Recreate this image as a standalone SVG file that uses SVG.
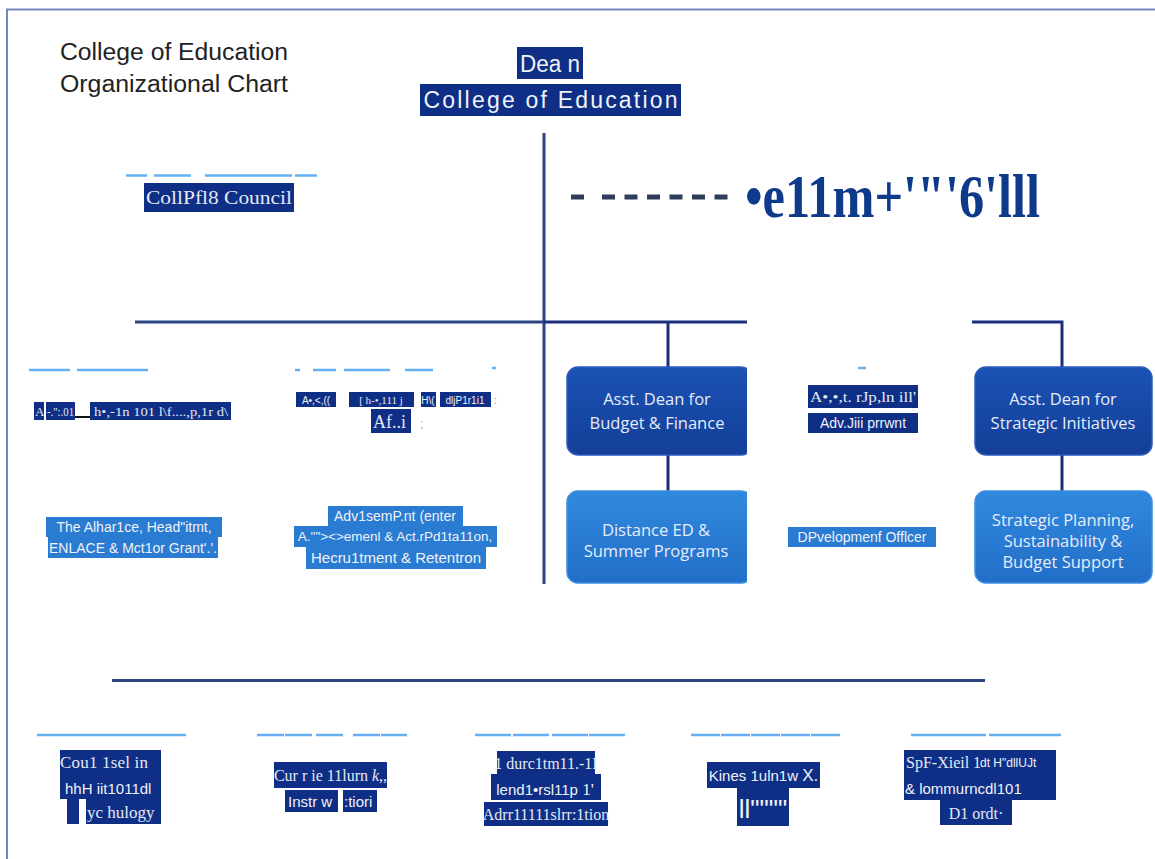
<svg xmlns="http://www.w3.org/2000/svg" width="1155" height="859" viewBox="0 0 1155 859">
<style>
.t{font-family:"Liberation Sans",Arial,sans-serif;fill:#f0f2f8}
.s{font-family:"Liberation Serif","Times New Roman",serif;fill:#e4e8f2}
.nv{fill:#0e2f85}
.md{fill:#2a7bd2}
.dl{stroke:#64b0f2;stroke-width:2.5}
.ln{stroke:#2b4583;stroke-width:3;fill:none}
.rl{stroke:#1c2f7c;stroke-width:3;fill:none}
.bx{font-family:"Open Sans","Liberation Sans",sans-serif;font-size:16.5px;fill:#e6ecf8;text-anchor:middle}
</style>
<defs>
<linearGradient id="gd" x1="0" y1="0" x2="0" y2="1"><stop offset="0" stop-color="#1b52b4"/><stop offset="1" stop-color="#133f98"/></linearGradient>
<linearGradient id="gl" x1="0" y1="0" x2="0" y2="1"><stop offset="0" stop-color="#3089de"/><stop offset="1" stop-color="#226ec8"/></linearGradient>
<clipPath id="cl"><rect x="540" y="312" width="207" height="272"/></clipPath>
<clipPath id="cr"><rect x="972" y="312" width="183" height="272"/></clipPath>
</defs>
<rect width="1155" height="859" fill="#fff"/>
<path d="M7 859V9.5H1155" fill="none" stroke="#7486bd" stroke-width="2"/>

<g id="title">
<text x="60" y="60" font-family="Liberation Sans,Arial,sans-serif" font-size="23" fill="#222" textLength="228" lengthAdjust="spacingAndGlyphs">College of Education</text>
<text x="60" y="92" font-family="Liberation Sans,Arial,sans-serif" font-size="23" fill="#222" textLength="228" lengthAdjust="spacingAndGlyphs">Organizational Chart</text>
</g>

<g id="connectors">
<line class="ln" x1="544" y1="133" x2="544" y2="584" stroke="#1f3a92"/>
<line class="ln" x1="135" y1="322" x2="544" y2="322"/>
<line class="ln" x1="112" y1="680.5" x2="985" y2="680.5"/>
<g stroke="#2d3e5a" stroke-width="5">
<line x1="571" y1="197" x2="584" y2="197"/>
<line x1="602" y1="197" x2="729" y2="197" stroke-dasharray="13 9.5"/>
</g>
<g clip-path="url(#cl)">
<path class="rl" d="M544 322H747M668 322V368M668 455V492"/>
</g>
<g clip-path="url(#cr)">
<path class="rl" d="M972 322H1062V368M1062 455V492"/>
</g>
<g class="dl">
<path d="M126 175.5H147M154 175.5H191M205 175.5H292M295 175.5H317"/>
<path d="M29 370H70M77 370H148"/>
<path d="M295 370H300M313 370H336M344 370H390M405 370H433M492 368H496"/>
<path d="M858 368H866"/>
<path d="M37 735H186"/>
<path d="M257 735H284M285 735H312M316 735H343M353 735H380M381 735H407"/>
<path d="M475 735H511M513 735H549M552 735H588M589 735H625"/>
<path d="M691 735H720M721 735H750M751 735H780M781 735H810M811 735H840"/>
<path d="M911 735H986M989 735H1061"/>
</g>
<line x1="75" y1="417" x2="90" y2="417" stroke="#111" stroke-width="2"/>
</g>

<g id="dean">
<rect class="nv" x="517" y="47" width="66" height="32"/>
<text class="t" x="550" y="72" font-size="23" text-anchor="middle" textLength="60" lengthAdjust="spacingAndGlyphs">Dea n</text>
<rect class="nv" x="420" y="84" width="261" height="32"/>
<text class="t" x="550.5" y="108" font-size="23" text-anchor="middle" textLength="254" lengthAdjust="spacing">College of Education</text>
</g>

<g id="garbled-header">
<text x="745" y="217" font-family="Liberation Serif,Times New Roman,serif" font-weight="bold" font-size="62" fill="#0d3a8a" textLength="295" lengthAdjust="spacingAndGlyphs">•e11m+'"'6'lll</text>
</g>

<g id="council">
<rect class="nv" x="144" y="183" width="150" height="29"/>
<text class="s" x="219" y="204" font-size="18" text-anchor="middle" textLength="146" lengthAdjust="spacingAndGlyphs">CollPfl8 Council</text>
</g>

<g id="node-left-1">
<rect class="nv" x="34" y="402" width="10" height="18"/>
<rect class="nv" x="46" y="402" width="29" height="18"/>
<rect class="nv" x="90" y="402" width="141" height="18"/>
<text class="s" x="35" y="416" font-size="13">A</text>
<text class="s" x="47" y="416" font-size="13" textLength="27" lengthAdjust="spacingAndGlyphs">-.":.01</text>
<text class="s" x="94" y="416" font-size="13" textLength="134" lengthAdjust="spacingAndGlyphs">h•,-1n 101 l\f....,p,1r d\</text>
</g>

<g id="node-left-2">
<rect class="nv" x="296" y="392" width="40" height="15"/>
<rect class="nv" x="349" y="392" width="65" height="15"/>
<rect class="nv" x="421" y="392" width="15" height="15"/>
<rect class="nv" x="440" y="392" width="51" height="15"/>
<text class="t" x="316" y="403.5" font-size="10" text-anchor="middle">A•,&lt;,((</text>
<text class="s" x="381" y="404" font-size="11" text-anchor="middle">[ h-•,111  j</text>
<text class="t" x="428" y="403.5" font-size="10" text-anchor="middle">H\(</text>
<text class="t" x="465" y="403.5" font-size="10" text-anchor="middle">dljP1r1i1</text>
<text x="494" y="403.5" font-size="10" fill="#889" font-family="Liberation Sans,sans-serif">:</text>
<rect class="nv" x="371" y="409" width="40" height="24"/>
<text class="s" x="373" y="428" font-size="18">Af..i</text>
<text x="420" y="428" font-size="12" fill="#7ab4ee" font-family="Liberation Sans,sans-serif">;</text>
</g>

<g id="node-alliance">
<rect class="md" x="46" y="517" width="176" height="20"/>
<rect class="md" x="48" y="537" width="170" height="21"/>
<text class="t" x="134" y="532" font-size="14" text-anchor="middle">The Alhar1ce, Head"itmt,</text>
<text class="t" x="133" y="553" font-size="14" text-anchor="middle">ENLACE &amp; Mct1or Grant'.'.</text>
</g>

<g id="node-advisement">
<rect class="md" x="328" y="506" width="135" height="20"/>
<rect class="md" x="294" y="526" width="203" height="21"/>
<rect class="md" x="306" y="547" width="180" height="22"/>
<text class="t" x="395" y="521" font-size="14" text-anchor="middle">Adv1semP.nt  (enter</text>
<text class="t" x="395" y="541" font-size="13.5" text-anchor="middle">A.""&gt;&lt;&gt;emenl &amp; Act.rPd1ta11on,</text>
<text class="t" x="396" y="563" font-size="15" text-anchor="middle">Hecru1tment  &amp;  Retentron</text>
</g>

<g id="node-budget">
<g clip-path="url(#cl)">
<rect x="567" y="367" width="185" height="88" rx="11" fill="url(#gd)" stroke="#2a5cc0" stroke-width="1.5"/>
<text class="bx" x="657" y="405">Asst. Dean for</text>
<text class="bx" x="657" y="429">Budget &amp; Finance</text>
</g>
</g>

<g id="node-distance">
<g clip-path="url(#cl)">
<rect x="567" y="491" width="185" height="92" rx="11" fill="url(#gl)" stroke="#3b8ee0" stroke-width="1.5"/>
<text class="bx" x="656" y="536">Distance ED &amp;</text>
<text class="bx" x="656" y="557">Summer Programs</text>
</g>
</g>

<g id="node-strategic">
<g clip-path="url(#cr)">
<rect x="975" y="367" width="177" height="88" rx="11" fill="url(#gd)" stroke="#2a5cc0" stroke-width="1.5"/>
<text class="bx" x="1063" y="405">Asst. Dean  for</text>
<text class="bx" x="1063" y="429">Strategic Initiatives</text>
</g>
</g>

<g id="node-planning">
<g clip-path="url(#cr)">
<rect x="975" y="491" width="177" height="92" rx="11" fill="url(#gl)" stroke="#3b8ee0" stroke-width="1.5"/>
<text class="bx" x="1063" y="526">Strategic Planning,</text>
<text class="bx" x="1063" y="547">Sustainability &amp;</text>
<text class="bx" x="1063" y="568">Budget Support</text>
</g>
</g>

<g id="node-advancement">
<rect class="nv" x="808" y="385" width="110" height="23"/>
<rect class="nv" x="808" y="413" width="110" height="20"/>
<text class="s" x="810" y="402" font-size="15" textLength="106" lengthAdjust="spacingAndGlyphs">A•,•,t. rJp,ln  ill'</text>
<text class="t" x="863" y="428" font-size="14" text-anchor="middle">Adv.Jiii prrwnt</text>
</g>

<g id="node-development">
<rect class="md" x="788" y="527" width="148" height="20"/>
<text class="t" x="862" y="542" font-size="14" text-anchor="middle">DPvelopmenf  Offlcer</text>
</g>

<g id="node-counseling">
<rect class="nv" x="60" y="750" width="101" height="49"/>
<rect class="nv" x="67" y="799" width="12" height="25"/>
<rect class="nv" x="86" y="799" width="75" height="25"/>
<text class="s" x="60" y="768" font-size="17" textLength="88" lengthAdjust="spacing">Cou1 1sel in</text>
<text class="t" x="65" y="794" font-size="15">hhH iit1011dl</text>
<text class="s" x="87" y="818" font-size="17">yc  hulogy</text>
</g>

<g id="node-curriculum">
<rect class="nv" x="274" y="762" width="113" height="26"/>
<rect class="nv" x="285" y="790" width="53" height="22"/>
<rect class="nv" x="343" y="790" width="34" height="22"/>
<text class="s" x="330.5" y="781" font-size="16" text-anchor="middle">Cur r ie 11lurn <tspan font-style="italic">k</tspan>,,</text>
<text class="t" x="288" y="807" font-size="15">Instr  w</text>
<text class="t" x="344" y="807" font-size="15">:tiori</text>
</g>

<g id="node-leadership">
<rect class="nv" x="497" y="751" width="98" height="23"/>
<rect class="nv" x="491" y="774" width="110" height="26"/>
<rect class="nv" x="484" y="802" width="124" height="24"/>
<text class="s" x="546" y="769" font-size="16" text-anchor="middle">1 durc1tm11.-1I</text>
<text class="t" x="545" y="795" font-size="15" text-anchor="middle">lend1•rsl11p <tspan font-family="Liberation Serif,serif" font-size="17">1'</tspan></text>
<text class="s" x="546" y="820" font-size="16" text-anchor="middle">Adrr11111slrr:1tion</text>
</g>

<g id="node-kinesiology">
<rect class="nv" x="707" y="762" width="113" height="26"/>
<rect class="nv" x="737" y="788" width="52" height="38"/>
<text class="t" x="763.5" y="781" font-size="15" text-anchor="middle">Kines 1uln1w <tspan font-size="17">X.</tspan></text>
<text class="t" x="763" y="818" font-size="26" text-anchor="middle">ll""""</text>
</g>

<g id="node-special">
<rect class="nv" x="904" y="750" width="152" height="50"/>
<rect class="nv" x="940" y="800" width="72" height="25"/>
<text class="s" x="906" y="768" font-size="16">SpF-Xieil 1</text>
<text class="t" x="980" y="767" font-size="12">dt H"dllUJt</text>
<text class="t" x="905" y="794" font-size="15">&amp;   lommurncdl101</text>
<text class="s" x="976" y="819" font-size="16" text-anchor="middle">D1 ordt·</text>
</g>
</svg>
